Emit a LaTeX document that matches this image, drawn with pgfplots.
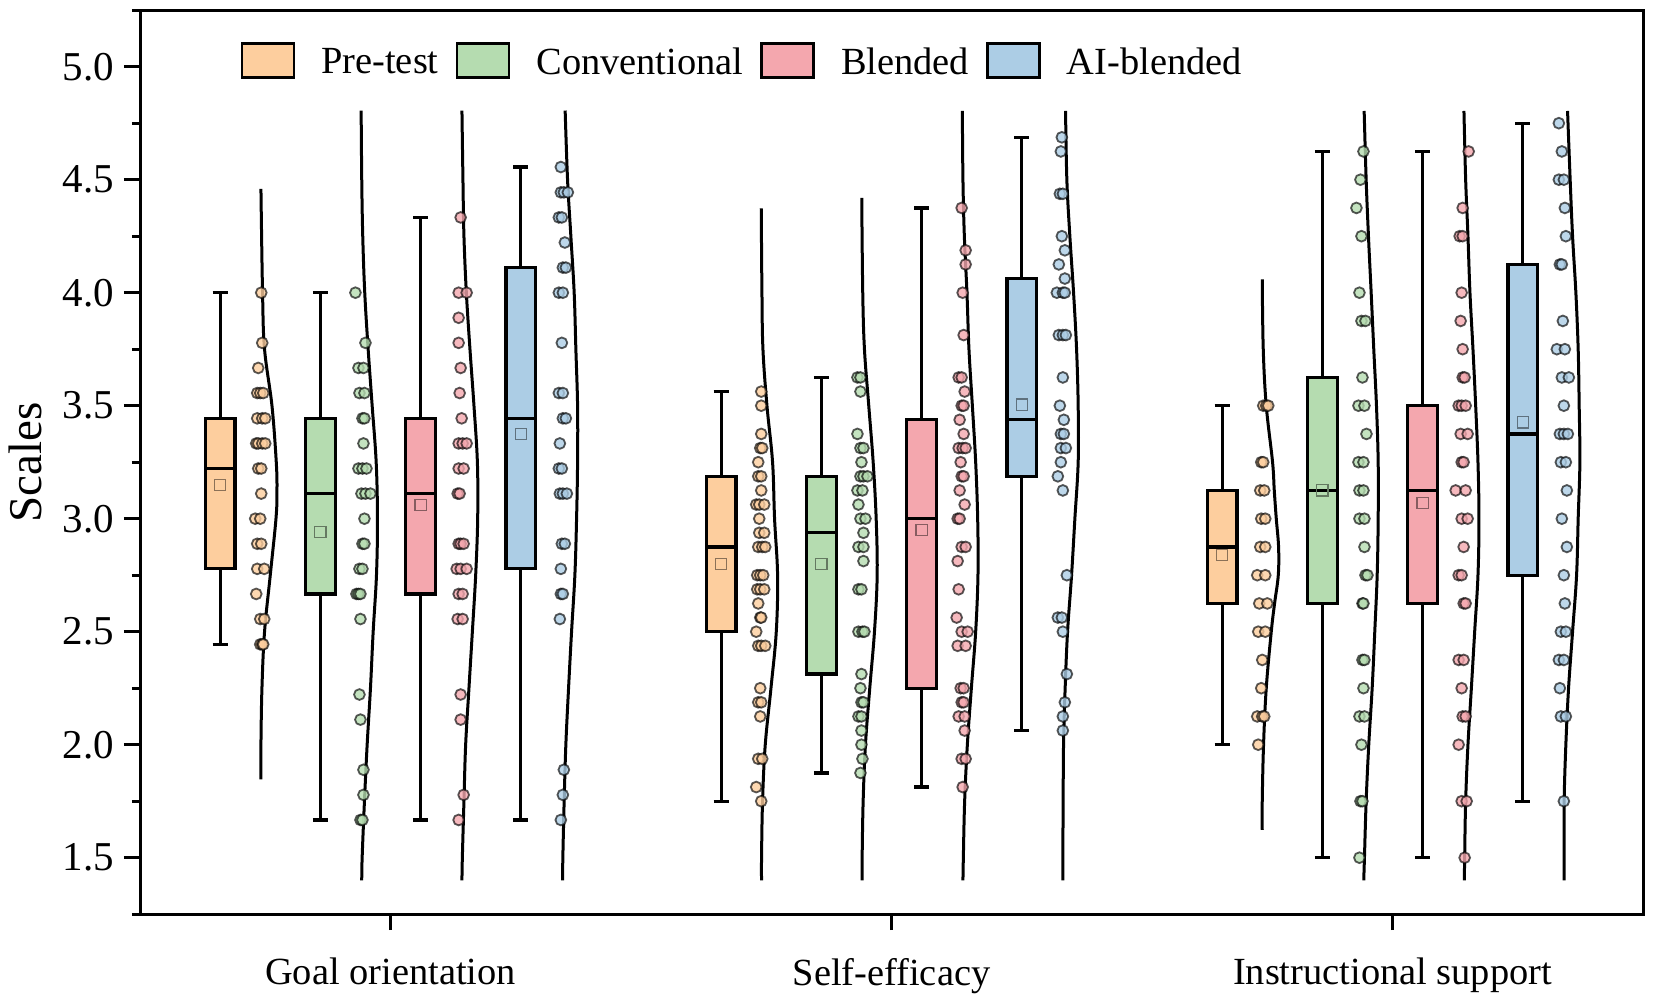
\documentclass[border=0pt]{standalone}
\usepackage{fontspec}
\setmainfont{Liberation Serif}
\usepackage{pgfplots}
\pgfplotsset{compat=1.18}

\definecolor{cpre}{HTML}{FDCE9E}
\definecolor{ccon}{HTML}{B5DCB0}
\definecolor{cble}{HTML}{F4A7AE}
\definecolor{cai}{HTML}{ACCDE5}

\pgfplotsset{
  curve/.style={black, line width=1.5pt, smooth, tension=0.6, no markers, forget plot},
  pts/.style={only marks, mark=*, mark size=2.7pt, forget plot,
    mark options={draw=black, fill=#1, line width=0.9pt, draw opacity=0.65, fill opacity=0.8}},
  avg/.style={only marks, mark=square, mark size=2.8pt, forget plot,
    mark options={draw=black!45!#1, line width=0.6pt}},
  wline/.style={black, line width=1.6pt, no markers, forget plot},
}

% colour, position, lower whisker, lower quartile, median, upper quartile, upper whisker
\newcommand{\boxp}[7]{%
  \pgfmathsetmacro{\boxl}{#2-14.8}\pgfmathsetmacro{\boxr}{#2+14.8}%
  \pgfmathsetmacro{\capl}{#2-7.5}\pgfmathsetmacro{\capr}{#2+7.5}%
  \addplot[wline] coordinates {(#2,#3)(#2,#4)};
  \addplot[wline] coordinates {(#2,#6)(#2,#7)};
  \addplot[wline] coordinates {(\capl,#3)(\capr,#3)};
  \addplot[wline] coordinates {(\capl,#7)(\capr,#7)};
  \addplot[wline, fill=#1] coordinates {(\boxl,#4)(\boxr,#4)(\boxr,#6)(\boxl,#6)} -- cycle;
  \addplot[wline] coordinates {(\boxl,#5)(\boxr,#5)};
}

\begin{document}
\begin{tikzpicture}
\useasboundingbox (0pt,0pt) rectangle (827pt,502pt);
\begin{axis}[
  at={(70pt,44.9pt)}, anchor=south west,
  scale only axis, width=751.5pt, height=452pt,
  xmin=0, xmax=1500, ymin=1.25, ymax=5.25,
  axis line style={line width=1.5pt},
  tick style={black, line width=1.5pt},
  tick align=outside, tick pos=left,
  major tick length=8pt, minor tick length=4pt,
  xtick={250,750,1250},
  xticklabels={Goal orientation,Self-efficacy,Instructional support},
  ytick={1.5,2,2.5,3,3.5,4,4.5,5},
  minor ytick={1.25,1.75,2.25,2.75,3.25,3.75,4.25,4.75,5.25},
  yticklabel style={/pgf/number format/fixed, /pgf/number format/fixed zerofill,
    /pgf/number format/precision=1, /pgf/number format/assume math mode=true,
    font=\fontsize{20.5}{24}\selectfont, xshift=-1.5pt},
  xticklabel style={font=\fontsize{19.2}{23}\selectfont, yshift=-10.5pt},
  ylabel={Scales},
  ylabel style={font=\fontsize{23.5}{28}\selectfont, at={(axis description cs:-0.0765,0.5)}, anchor=center},
  legend columns=4,
  legend style={draw=none, fill=none, at={(axis description cs:0.0666,0.965)}, anchor=north west,
    font=\fontsize{19.2}{23}\selectfont, inner sep=0pt,
    nodes={inner xsep=0pt, inner ysep=1pt, yshift=-0.5pt},
    /tikz/every odd column/.append style={column sep=13pt},
    /tikz/every even column/.append style={column sep=8.5pt}},
  legend image code/.code={\draw[#1] (0pt,-8pt) rectangle (26pt,9pt);},
]
% legend swatches
\addlegendimage{fill=cpre, draw=black, line width=1.4pt}
\addlegendentry{Pre-test}
\addlegendimage{fill=ccon, draw=black, line width=1.4pt}
\addlegendentry{Conventional}
\addlegendimage{fill=cble, draw=black, line width=1.4pt}
\addlegendentry{Blended}
\addlegendimage{fill=cai, draw=black, line width=1.4pt}
\addlegendentry{AI-blended}

% density curves, goal orientation
\addplot[curve] coordinates {(120.7,4.459)(122.3,4)(124.3,3.75)(131.7,3.5)(136,3.25)(136.7,3.12)(135.7,3)(130,2.75)(124.3,2.5)(121.7,2.25)(120.7,2)(120.7,1.847)};
\addplot[curve] coordinates {(220.7,4.806)(221.3,4.5)(222.3,4.25)(224.3,4)(227.7,3.75)(231.7,3.5)(235.7,3.25)(237,3)(236,2.75)(232.7,2.5)(230,2.25)(226.7,2)(224,1.75)(221.7,1.5)(221.3,1.4)};
\addplot[curve] coordinates {(321.3,4.806)(322.3,4.5)(323.3,4.25)(325.7,4)(329.3,3.75)(333.3,3.5)(336.7,3.25)(337,3)(335,2.75)(331.7,2.5)(328.3,2.25)(325,2)(323.3,1.75)(321.7,1.5)(321.3,1.4)};
\addplot[curve] coordinates {(424.3,4.806)(426.7,4.5)(430,4.25)(433.3,4)(435,3.75)(436.7,3.5)(436.7,3.25)(435.7,3)(434,2.75)(430.7,2.5)(427.7,2.25)(425,2)(423.3,1.75)(422,1.5)(421.7,1.4)};
% density curves, self-efficacy
\addplot[curve] coordinates {(620,4.373)(620.7,4)(621.7,3.75)(625.7,3.5)(631.3,3.25)(633.3,3)(636.3,2.75)(635,2.5)(629.7,2.25)(624,2)(621.3,1.75)(620.3,1.5)(620.3,1.4)};
\addplot[curve] coordinates {(720.3,4.42)(721.3,4)(723,3.75)(727.3,3.5)(731.7,3.25)(734.7,3)(735.7,2.75)(733,2.5)(728.3,2.25)(724,2)(721.7,1.75)(720.7,1.5)(720.7,1.4)};
\addplot[curve] coordinates {(820.7,4.804)(821.3,4.5)(822.7,4.25)(825.3,4)(827.3,3.75)(830.7,3.5)(834,3.25)(836,3)(836.3,2.75)(834,2.5)(829.7,2.25)(825.7,2)(823,1.75)(821.7,1.5)(821.3,1.4)};
\addplot[curve] coordinates {(923.7,4.804)(925,4.5)(928,4.25)(931.7,4)(934.7,3.75)(936.3,3.5)(936.3,3.25)(933,3)(929.7,2.75)(925.7,2.5)(923.3,2.25)(921.7,2)(921.3,1.75)(921,1.5)(921,1.4)};
% density curves, instructional support
\addplot[curve] coordinates {(1120,4.059)(1121,3.75)(1124,3.5)(1130.3,3.25)(1132,3.125)(1134,3)(1136.3,2.875)(1136,2.75)(1132.3,2.625)(1129,2.5)(1124,2.25)(1121.3,2)(1120,1.75)(1120,1.623)};
\addplot[curve] coordinates {(1221.7,4.804)(1223.7,4.5)(1226,4.25)(1228.7,4)(1231.3,3.75)(1234,3.5)(1235.7,3.25)(1235.7,3)(1234.7,2.75)(1232.3,2.5)(1229.7,2.25)(1226.3,2)(1223.7,1.75)(1222,1.5)(1221.3,1.4)};
\addplot[curve] coordinates {(1321.3,4.804)(1323,4.5)(1325.3,4.25)(1327.3,4)(1330.3,3.75)(1333,3.5)(1335.3,3.25)(1336.3,3)(1335.3,2.75)(1332,2.5)(1328.7,2.25)(1325.3,2)(1323,1.75)(1322,1.5)(1321.7,1.4)};
\addplot[curve] coordinates {(1424.7,4.804)(1427.3,4.5)(1429.7,4.25)(1433,4)(1435.3,3.75)(1436.3,3.5)(1437,3.25)(1435.3,3)(1433.7,2.75)(1429.7,2.5)(1425.7,2.25)(1423,2)(1421.3,1.75)(1421.3,1.5)(1421.3,1.4)};

% boxes
\boxp{cpre}{80}{2.444}{2.778}{3.222}{3.444}{4}
\boxp{ccon}{180}{1.667}{2.667}{3.111}{3.444}{4}
\boxp{cble}{280}{1.667}{2.667}{3.111}{3.444}{4.333}
\boxp{cai}{380}{1.667}{2.778}{3.444}{4.111}{4.556}
\boxp{cpre}{580}{1.75}{2.5}{2.875}{3.1875}{3.5625}
\boxp{ccon}{680}{1.875}{2.3125}{2.9375}{3.1875}{3.625}
\boxp{cble}{780}{1.8125}{2.25}{3}{3.4375}{4.375}
\boxp{cai}{880}{2.0625}{3.1875}{3.4375}{4.0625}{4.6875}
\boxp{cpre}{1080}{2}{2.625}{2.875}{3.125}{3.5}
\boxp{ccon}{1180}{1.5}{2.625}{3.125}{3.625}{4.625}
\boxp{cble}{1280}{1.5}{2.625}{3.125}{3.5}{4.625}
\boxp{cai}{1380}{1.75}{2.75}{3.375}{4.125}{4.75}

% means
\addplot[avg=cpre] coordinates {(80,3.15)(580,2.8)(1080,2.839)};
\addplot[avg=ccon] coordinates {(180,2.94)(680,2.8)(1180,3.125)};
\addplot[avg=cble] coordinates {(280,3.06)(780,2.95)(1280,3.07)};
\addplot[avg=cai] coordinates {(380,3.375)(880,3.505)(1380,3.426)};

% individual scores, pre-test
\addplot[pts=cpre] coordinates {
(121,4)(122,3.778)(118,3.667)(117,3.556)(120,3.556)(123,3.556)(117,3.444)(122,3.444)(125,3.444)
(116,3.333)(118,3.333)(122,3.333)(125,3.333)(118,3.222)(121,3.222)(121,3.111)(115,3)(120,3)
(117,2.889)(121,2.889)(117,2.778)(124,2.778)(116,2.667)(120,2.556)(124,2.556)(120,2.444)(122,2.444)(123,2.444)
(620,3.5625)(620,3.5)(620,3.375)(619,3.3125)(621,3.3125)(617,3.25)(617,3.1875)(620,3.1875)(620,3.125)
(615,3.0625)(618,3.0625)(623,3.0625)(618,3)(618,2.9375)(623,2.9375)(617,2.875)(621,2.875)(624,2.875)
(616,2.75)(619,2.75)(622,2.75)(616,2.6875)(619,2.6875)(623,2.6875)(617,2.625)(619,2.5625)(620,2.5625)
(615,2.5)(617,2.4375)(620,2.4375)(624,2.4375)(619,2.25)(617,2.1875)(620,2.1875)(619,2.125)(617,1.9375)(621,1.9375)(615,1.8125)(620,1.75)
(1121,3.5)(1124,3.5)(1126,3.5)(1119,3.25)(1121,3.25)(1118,3.125)(1122,3.125)(1119,3)(1123,3)(1118,2.875)(1123,2.875)
(1115,2.75)(1123,2.75)(1117,2.625)(1125,2.625)(1116,2.5)(1123,2.5)(1120,2.375)(1119,2.25)(1115,2.125)(1120,2.125)(1122,2.125)(1116,2)
};
% conventional
\addplot[pts=ccon] coordinates {
(215,4)(225,3.778)(218,3.667)(223,3.667)(219,3.556)(224,3.556)(222,3.444)(224,3.444)(223,3.333)(218,3.222)(222,3.222)(226,3.222)
(221,3.111)(225,3.111)(230,3.111)(224,3)(222,2.889)(224,2.889)(219,2.778)(222,2.778)(216,2.667)(218,2.667)(220,2.667)(220,2.556)
(219,2.222)(220,2.111)(223,1.889)(223,1.778)(220,1.667)(222,1.667)
(716,3.625)(719,3.625)(719,3.5625)(716,3.375)(719,3.3125)(722,3.3125)(720,3.25)(719,3.1875)(722,3.1875)(726,3.1875)
(716,3.125)(721,3.125)(717,3.0625)(719,3)(724,3)(722,2.9375)(717,2.875)(722,2.875)(722,2.8125)(717,2.6875)(720,2.6875)
(717,2.5)(721,2.5)(723,2.5)(720,2.3125)(719,2.25)(720,2.1875)(722,2.1875)(717,2.125)(720,2.125)(720,2.0625)(720,2)(721,1.9375)(719,1.875)
(1221,4.625)(1218,4.5)(1214,4.375)(1219,4.25)(1217,4)(1219,3.875)(1223,3.875)(1220,3.625)(1216,3.5)(1222,3.5)(1224,3.375)
(1216,3.25)(1221,3.25)(1217,3.125)(1221,3.125)(1217,3)(1222,3)(1222,2.875)(1223,2.75)(1225,2.75)(1220,2.625)(1221,2.625)
(1220,2.375)(1222,2.375)(1221,2.25)(1217,2.125)(1222,2.125)(1219,2)(1218,1.75)(1220,1.75)(1217,1.5)
};
% blended
\addplot[pts=cble] coordinates {
(320,4.333)(318,4)(326,4)(318,3.889)(318,3.778)(320,3.667)(319,3.556)(321,3.444)(318,3.333)(322,3.333)(326,3.333)(318,3.222)(323,3.222)
(317,3.111)(319,3.111)(318,2.889)(320,2.889)(323,2.889)(316,2.778)(320,2.778)(326,2.778)(318,2.667)(322,2.667)(317,2.556)(322,2.556)
(320,2.222)(320,2.111)(323,1.778)(318,1.667)
(820,4.375)(824,4.1875)(824,4.125)(821,4)(822,3.8125)(817,3.625)(820,3.625)(823,3.5625)(820,3.5)(822,3.5)(818,3.4375)(822,3.375)
(817,3.3125)(821,3.3125)(824,3.3125)(819,3.25)(820,3.1875)(822,3.1875)(818,3.125)(823,3.0625)(816,3)(818,3)(820,2.875)(824,2.875)
(816,2.8125)(817,2.6875)(815,2.5625)(820,2.5)(826,2.5)(816,2.4375)(824,2.4375)(819,2.25)(822,2.25)(820,2.1875)(822,2.1875)
(817,2.125)(823,2.125)(823,2.0625)(820,1.9375)(824,1.9375)(821,1.8125)
(1326,4.625)(1320,4.375)(1317,4.25)(1320,4.25)(1319,4)(1318,3.875)(1320,3.75)(1320,3.625)(1322,3.625)(1316,3.5)(1319,3.5)(1323,3.5)
(1318,3.375)(1325,3.375)(1319,3.25)(1321,3.25)(1313,3.125)(1323,3.125)(1319,3)(1325,3)(1321,2.875)(1316,2.75)(1319,2.75)
(1321,2.625)(1323,2.625)(1316,2.375)(1321,2.375)(1319,2.25)(1320,2.125)(1323,2.125)(1316,2)(1319,1.75)(1324,1.75)(1322,1.5)
};
% AI-blended
\addplot[pts=cai] coordinates {
(420,4.556)(420,4.444)(423,4.444)(427,4.444)(418,4.333)(421,4.333)(424,4.222)(422,4.111)(425,4.111)(418,4)(422,4)(421,3.778)
(418,3.556)(422,3.556)(422,3.444)(425,3.444)(419,3.333)(418,3.222)(421,3.222)(419,3.111)(422,3.111)(426,3.111)
(421,2.889)(424,2.889)(420,2.778)(420,2.667)(422,2.667)(419,2.556)(423,1.889)(422,1.778)(420,1.667)
(920,4.6875)(919,4.625)(918,4.4375)(921,4.4375)(920,4.25)(923,4.1875)(917,4.125)(923,4.0625)(915,4)(921,4)(923,4)
(917,3.8125)(921,3.8125)(924,3.8125)(921,3.625)(918,3.5)(922,3.4375)(919,3.375)(922,3.375)(919,3.3125)(924,3.3125)(919,3.25)(916,3.1875)(921,3.125)
(925,2.75)(916,2.5625)(920,2.5625)(921,2.5)(925,2.3125)(923,2.1875)(921,2.125)(921,2.0625)
(1416,4.75)(1419,4.625)(1416,4.5)(1421,4.5)(1422,4.375)(1423,4.25)(1417,4.125)(1419,4.125)(1420,3.875)(1414,3.75)(1422,3.75)
(1419,3.625)(1426,3.625)(1421,3.5)(1417,3.375)(1421,3.375)(1425,3.375)(1418,3.25)(1423,3.25)(1424,3.125)(1419,3)(1424,2.875)
(1421,2.75)(1422,2.625)(1418,2.5)(1423,2.5)(1416,2.375)(1421,2.375)(1417,2.25)(1418,2.125)(1423,2.125)(1421,1.75)
};
\end{axis}
\end{tikzpicture}
\end{document}
